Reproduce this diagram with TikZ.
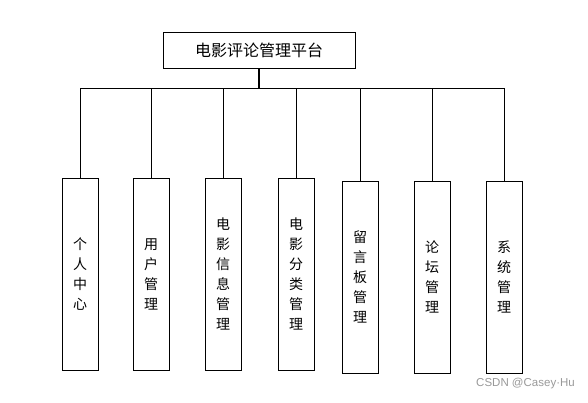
\documentclass[tikz,border=0pt]{standalone}
\usepackage{fontspec}
\newfontfamily\cjk{Noto Sans CJK SC}
\newfontfamily\wmfont{Liberation Sans}
\begin{document}
\begin{tikzpicture}[x=1pt,y=-1pt,
  box/.style={draw=black,line width=0.9pt,fill=white,inner sep=0pt},
  vbox/.style={box,minimum width=36pt,minimum height=192pt,align=center,font=\cjk\fontsize{14}{20}\selectfont},
  conn/.style={draw=black,line width=0.9pt}]
\useasboundingbox (0,0) rectangle (588,402);
\node[box,minimum width=192pt,minimum height=36pt,font=\cjk\fontsize{16}{18}\selectfont] (top) at (259,50) {电影评论管理平台};
\node[vbox] (b1) at (80,274) {个\\人\\中\\心};
\node[vbox] (b2) at (151,274) {用\\户\\管\\理};
\node[vbox] (b3) at (223,274) {电\\影\\信\\息\\管\\理};
\node[vbox] (b4) at (296,274) {电\\影\\分\\类\\管\\理};
\node[vbox] (b5) at (360,277) {留\\言\\板\\管\\理};
\node[vbox] (b6) at (432,277) {论\\坛\\管\\理};
\node[vbox] (b7) at (504,277) {系\\统\\管\\理};
\coordinate (j) at (259,88);
\draw[conn,line width=1.8pt] (top.south) -- (j);
\draw[conn] (b1.north) |- (j);
\draw[conn] (b7.north) |- (j);
\foreach \n in {b2,b3,b4,b5,b6} \draw[conn] (\n.north) -- (\n.north |- j);
\node[text=black!40,font=\wmfont\fontsize{11.5}{13}\selectfont,anchor=east,inner sep=0pt] (wm) at (575,384) {CSDN @Casey·Hu};
\end{tikzpicture}
\end{document}
